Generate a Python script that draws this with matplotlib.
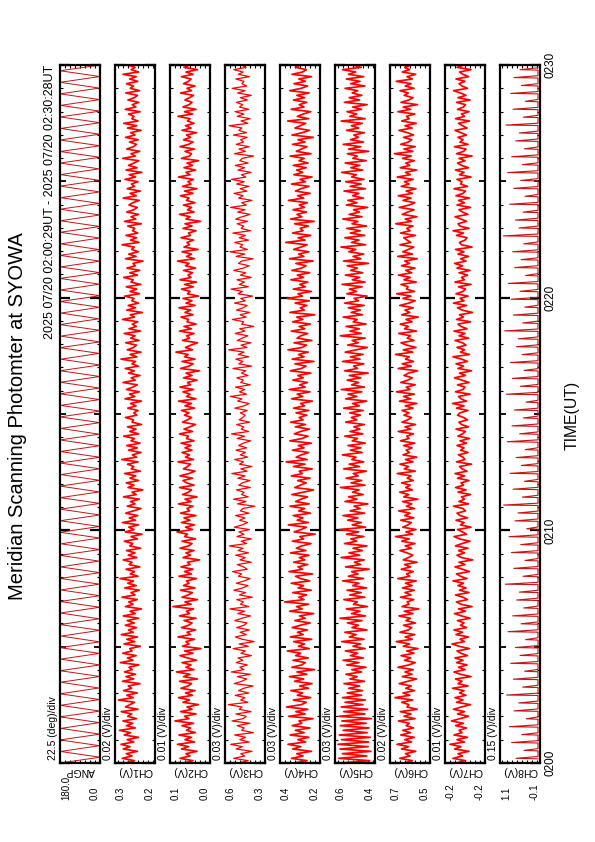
import numpy as np
import matplotlib
matplotlib.use("Agg")
import matplotlib.pyplot as plt
from matplotlib.ticker import MultipleLocator
from matplotlib.transforms import blended_transform_factory

plt.rcParams['font.family'] = ['Liberation Sans', 'DejaVu Sans']

# Panel setup: names, centre value and scale per division (8 divisions per panel)
names = ["ANGP", "CH1(V)", "CH2(V)", "CH3(V)", "CH4(V)", "CH5(V)", "CH6(V)", "CH7(V)", "CH8(V)"]
centres = [90.0, 0.25, 0.05, 0.45, 0.30, 0.50, 0.60, -0.20, 0.50]
divs = [22.5, 0.02, 0.01, 0.03, 0.03, 0.03, 0.02, 0.01, 0.15]
units = ["deg", "V", "V", "V", "V", "V", "V", "V", "V"]

time_ticks = [0, 10, 20, 30]
time_labels = ["0200", "0210", "0220", "0230"]

title = "Meridian Scanning Photomter at SYOWA"
period = "2025 07/20 02:00:29UT - 2025 07/20 02:30:28UT"

# scan angle (deg), sweeping back and forth
angp = [180, 0, 178, 2, 180, 0, 176, 3, 180, 0, 179, 1, 180, 4, 177, 0,
        180, 0, 178, 2, 180, 1, 175, 0, 180, 3, 179, 0, 180, 0, 177, 2,
        180, 0, 178, 5, 180, 0, 176, 1, 180, 2, 179, 0, 180, 0, 178, 3,
        180, 1, 177, 0, 180, 0, 179, 2, 180, 4, 176, 0, 180, 0, 178, 1,
        180, 2, 179, 0, 180, 0, 177, 3, 180, 0, 178, 0, 180, 5, 176, 1,
        180, 0, 179, 2, 180, 0, 178, 0, 180, 3, 177, 1, 180, 0, 179, 0,
        180, 2, 176, 0, 180, 1, 178, 4, 180, 0, 179, 0, 180, 2, 177, 0,
        180, 0, 178, 1, 180, 3, 179, 0, 180, 0]

# photometer channels (mV), from 02:00 to 02:30
ch1_mv = [290, 252, 301, 262, 285, 240, 297, 270, 306, 255, 281, 236, 293, 268, 312,
          249, 284, 259, 298, 244, 279, 263, 305, 238, 288, 270, 252, 316, 257, 283,
          241, 296, 264, 277, 230, 300, 255, 286, 248, 292, 261, 274, 235, 309, 258,
          280, 246, 299, 262, 271, 229, 294, 251, 283, 240, 305, 257, 276, 244, 289,
          253, 281, 236, 297, 249, 270, 224, 288, 258, 275, 241, 302, 250, 266, 233,
          291, 245, 279, 256, 310, 238, 269, 252, 286, 231, 273, 262, 297, 243, 277,
          250, 284, 228, 271, 259, 293, 240, 266, 222, 289, 254, 275, 236, 300, 248,
          273, 239, 287, 257, 226, 281, 250, 268, 233, 296, 245, 262, 219, 278, 254,
          285, 236, 270, 247, 292, 229, 265, 255, 280, 238, 303, 244, 261, 226, 276,
          241, 283, 230, 266, 252, 295, 235, 271, 246, 280, 224, 262, 256, 288, 243,
          255, 238, 279, 246, 268, 224, 290, 251, 272, 233, 284, 259, 241, 298, 249,
          265, 230, 276, 253, 289, 237, 262, 248, 306, 242, 270, 226, 281, 256, 244,
          287, 234, 267, 250, 293, 228, 274, 245, 261, 239, 300, 252, 269, 221, 283,
          248, 277, 236, 263, 254, 291, 232, 270, 243, 285, 227, 266, 257, 295, 240,
          271, 231, 282, 249, 258, 218, 288, 246, 275, 237, 263, 253, 302, 234, 268,
          244, 286, 239, 260, 251, 279, 225, 292, 247, 266, 236, 283, 255, 241, 274,
          259, 233, 297, 245, 270, 229, 281, 252, 264, 238, 290, 248, 273, 223, 286,
          242, 276, 254, 235, 299, 249, 266, 231, 283, 257, 244, 272, 237, 288, 250,
          267, 226, 280, 243, 295, 238, 263, 254, 276, 230, 289, 247, 261, 235, 278,
          253, 240, 287, 232, 269, 256, 284, 239, 271, 245, 298, 236, 265, 250, 279]

ch2_mv = [62, 44, 70, 50, 58, 36, 67, 53, 75, 41, 60, 47, 72, 39, 57,
          49, 66, 43, 80, 52, 61, 38, 69, 46, 56, 33, 64, 51, 73, 45,
          59, 40, 68, 54, 47, 71, 35, 63, 50, 77, 42, 58, 48, 66, 37,
          55, 70, 44, 61, 28, 65, 52, 58, 41, 74, 49, 56, 39, 67, 53,
          46, 62, 38, 71, 51, 57, 43, 84, 48, 60, 35, 66, 54, 45, 69,
          40, 63, 52, 57, 37, 72, 47, 61, 44, 68, 50, 55, 31, 64, 49,
          58, 42, 70, 53, 46, 66, 39, 61, 55, 76, 45, 59, 41, 67, 50,
          62, 38, 69, 51, 56, 44, 73, 48, 60, 36, 65, 53, 47, 71, 42,
          57, 64, 45, 70, 52, 40, 63, 55, 49, 74, 43, 59, 51, 66, 46,
          60, 48, 68, 42, 57, 53, 71, 45, 62, 50, 39, 65, 55, 47, 61,
          52, 67, 41, 60, 47, 73, 38, 57, 50, 64, 43, 70, 49, 55, 36,
          63, 46, 58, 31, 69, 52, 44, 66, 40, 61, 54, 78, 45, 59, 48,
          35, 65, 51, 57, 42, 71, 47, 62, 38, 56, 53, 68, 44, 60, 49,
          72, 40, 58, 46, 64, 33, 55, 50, 67, 43, 61, 37, 70, 48, 54,
          45, 63, 39, 59, 52, 75, 41, 57, 47, 66, 34, 62, 51, 56, 43,
          68, 49, 53, 38, 64, 46, 60, 29, 58, 50, 71, 42, 55, 47, 63,
          40, 57, 52, 69, 44, 61, 36, 65, 48, 54, 43, 73, 50, 58, 39,
          62, 45, 56, 33, 67, 51, 47, 60, 41, 70, 53, 44, 63, 49, 57,
          37, 66, 48, 59, 42, 55, 50, 74, 45, 61, 38, 64, 52, 46, 60,
          51, 43, 69, 47, 56, 40, 63, 53, 48, 67, 44, 58, 35, 62, 50]

ch3_mv = [490, 431, 518, 452, 475, 408, 503, 466, 536, 425, 481, 447, 512, 399, 470,
          455, 497, 420, 528, 461, 443, 505, 414, 484, 468, 550, 433, 476, 451, 509,
          427, 488, 459, 402, 515, 470, 440, 496, 418, 532, 457, 481, 436, 503, 463,
          492, 411, 474, 448, 521, 430, 485, 395, 467, 508, 442, 479, 424, 500, 456,
          438, 511, 469, 417, 493, 452, 541, 428, 477, 460, 499, 406, 483, 446, 517,
          464, 432, 502, 455, 420, 489, 471, 525, 437, 458, 496, 413, 480, 449, 506,
          429, 491, 462, 544, 440, 473, 412, 498, 457, 486, 423, 514, 467, 435, 482,
          451, 507, 426, 478, 463, 392, 495, 444, 519, 431, 470, 456, 501, 418, 487,
          466, 421, 493, 450, 529, 438, 475, 409, 483, 459, 512, 434, 478, 447, 504,
          440, 488, 461, 416, 497, 453, 531, 429, 472, 458, 500, 422, 485, 463, 449,
          478, 437, 511, 455, 426, 494, 469, 538, 441, 483, 452, 507, 418, 476, 460,
          499, 432, 471, 445, 522, 410, 487, 463, 505, 428, 490, 456, 547, 439, 474,
          415, 496, 467, 433, 509, 451, 482, 398, 470, 458, 526, 444, 479, 421, 501,
          461, 437, 513, 449, 475, 405, 492, 466, 534, 430, 484, 454, 498, 413, 477,
          446, 518, 460, 426, 489, 471, 402, 503, 452, 541, 436, 480, 464, 511, 429,
          485, 447, 523, 417, 473, 458, 497, 434, 506, 468, 420, 494, 450, 537, 442,
          470, 409, 488, 462, 516, 439, 479, 427, 500, 455, 531, 445, 472, 414, 492,
          453, 508, 431, 481, 466, 399, 513, 448, 486, 425, 502, 459, 476, 437, 520,
          441, 487, 469, 545, 433, 474, 419, 496, 457, 510, 428, 483, 464, 501, 436,
          478, 412, 494, 451, 527, 440, 468, 456, 505, 423, 489, 461, 517, 444, 473]

ch4_mv = [336, 258, 351, 282, 320, 231, 344, 295, 372, 266, 313, 247, 359, 275, 328,
          241, 347, 289, 306, 222, 368, 270, 325, 253, 381, 292, 262, 340, 236, 316,
          284, 355, 249, 302, 228, 333, 277, 363, 259, 318, 213, 349, 290, 268, 342,
          251, 326, 296, 376, 244, 309, 273, 338, 230, 358, 281, 315, 256, 347, 298,
          239, 331, 269, 303, 218, 362, 287, 321, 248, 392, 276, 307, 260, 344, 233,
          311, 279, 353, 242, 297, 327, 225, 366, 285, 312, 254, 338, 271, 304, 246,
          357, 265, 322, 289, 234, 346, 278, 301, 209, 335, 293, 262, 370, 250, 317,
          283, 341, 237, 308, 272, 360, 245, 326, 294, 255, 349, 280, 219, 332, 299,
          263, 314, 240, 352, 286, 305, 227, 339, 270, 383, 257, 323, 291, 248, 345,
          276, 310, 232, 361, 288, 252, 334, 297, 243, 328, 267, 356, 282, 305, 259,
          324, 248, 339, 273, 296, 226, 351, 284, 317, 240, 365, 269, 302, 255, 343,
          281, 313, 235, 358, 292, 264, 330, 217, 347, 276, 309, 251, 372, 287, 261,
          336, 229, 318, 295, 254, 352, 271, 305, 238, 344, 283, 320, 211, 361, 274,
          298, 259, 329, 244, 377, 286, 312, 232, 340, 268, 301, 253, 355, 279, 316,
          242, 349, 290, 264, 325, 221, 363, 277, 308, 247, 338, 294, 257, 386, 270,
          311, 236, 345, 282, 299, 250, 333, 215, 356, 289, 318, 261, 342, 273, 304,
          256, 369, 278, 314, 239, 327, 295, 246, 351, 267, 300, 228, 337, 284, 320,
          263, 341, 252, 306, 275, 359, 234, 322, 291, 258, 345, 270, 312, 220, 348,
          287, 243, 330, 299, 266, 374, 249, 316, 281, 236, 353, 276, 305, 260, 339,
          272, 319, 245, 362, 293, 255, 336, 268, 307, 231, 348, 285, 262, 327, 296]

ch5_mv = [585, 412, 598, 430, 576, 405, 590, 421, 602, 418, 581, 409, 594, 427, 571,
          416, 588, 433, 579, 402, 596, 440, 568, 424, 583, 452, 560, 438, 575, 460,
          547, 455, 538, 472, 566, 443, 530, 487, 555, 461, 519, 434, 549, 476, 571,
          450, 527, 484, 558, 439, 512, 467, 580, 446, 534, 493, 561, 428, 518, 479,
          545, 458, 590, 437, 521, 470, 552, 425, 509, 486, 567, 441, 531, 463, 548,
          431, 514, 476, 574, 449, 540, 482, 520, 415, 557, 466, 503, 445, 583, 472,
          536, 456, 512, 429, 563, 490, 525, 447, 551, 478, 594, 436, 517, 462, 544,
          483, 572, 442, 529, 469, 506, 423, 560, 488, 539, 451, 515, 476, 587, 440,
          524, 460, 553, 481, 510, 432, 568, 473, 535, 448, 519, 494, 576, 457, 528,
          465, 542, 438, 517, 485, 561, 453, 530, 471, 507, 444, 556, 489, 522, 468,
          532, 451, 568, 474, 515, 430, 556, 489, 541, 459, 582, 443, 520, 478, 547,
          466, 534, 421, 563, 485, 509, 447, 575, 470, 528, 452, 559, 493, 426, 544,
          481, 517, 439, 588, 462, 530, 474, 553, 434, 511, 487, 571, 455, 523, 468,
          540, 445, 562, 479, 506, 428, 549, 491, 533, 457, 578, 440, 516, 472, 558,
          453, 526, 486, 547, 419, 569, 464, 512, 448, 537, 495, 584, 436, 521, 476,
          561, 442, 528, 469, 550, 431, 518, 483, 573, 458, 535, 474, 509, 424, 552,
          488, 543, 450, 515, 477, 566, 437, 529, 463, 556, 446, 520, 492, 580, 455,
          525, 471, 559, 433, 513, 487, 546, 418, 538, 465, 571, 449, 527, 480, 507,
          444, 551, 478, 522, 456, 583, 439, 531, 490, 548, 461, 514, 427, 564, 473,
          535, 459, 517, 484, 560, 441, 526, 470, 552, 448, 539, 496, 575, 463, 512]

ch6_mv = [625, 590, 641, 600, 618, 577, 634, 606, 652, 594, 621, 583, 637, 598, 629,
          586, 615, 603, 646, 580, 624, 596, 639, 571, 612, 604, 633, 589, 660, 601,
          628, 582, 617, 595, 643, 609, 574, 631, 592, 620, 587, 648, 605, 579, 622,
          597, 636, 584, 613, 568, 627, 602, 655, 591, 619, 581, 640, 607, 593, 626,
          578, 616, 599, 644, 588, 623, 565, 632, 604, 611, 585, 638, 596, 620, 583,
          630, 592, 618, 575, 649, 601, 614, 587, 635, 598, 622, 572, 627, 606, 589,
          612, 640, 594, 619, 580, 633, 603, 658, 590, 616, 576, 629, 608, 595, 637,
          585, 621, 600, 645, 582, 614, 593, 630, 569, 625, 605, 641, 591, 617, 599,
          634, 587, 611, 596, 651, 579, 623, 606, 640, 588, 618, 573, 628, 602, 615,
          592, 626, 581, 638, 604, 613, 586, 647, 597, 620, 578, 632, 609, 594, 624,
          604, 632, 588, 619, 573, 642, 597, 626, 583, 654, 600, 615, 579, 637, 609,
          591, 624, 606, 570, 647, 595, 631, 586, 618, 603, 658, 589, 627, 576, 613,
          636, 584, 611, 598, 645, 574, 622, 607, 639, 592, 616, 567, 633, 601, 620,
          587, 641, 605, 579, 628, 596, 653, 582, 614, 608, 636, 575, 624, 599, 646,
          593, 617, 580, 634, 602, 621, 571, 649, 590, 629, 606, 585, 640, 597, 612,
          625, 578, 638, 600, 613, 588, 657, 594, 619, 572, 631, 609, 584, 643, 603,
          581, 628, 596, 647, 590, 615, 576, 635, 604, 622, 587, 651, 599, 618, 574,
          639, 601, 617, 583, 630, 595, 662, 589, 624, 579, 637, 607, 593, 626, 586,
          610, 644, 592, 620, 575, 633, 603, 614, 581, 648, 598, 627, 570, 636, 605,
          588, 623, 607, 640, 584, 619, 596, 655, 591, 612, 577, 631, 602, 621, 594]

ch7_mv = [-182, -201, -176, -195, -186, -208, -179, -192, -170, -199, -184, -205, -178, -194, -188,
          -203, -181, -197, -173, -190, -207, -185, -199, -177, -193, -211, -183, -196, -180, -202,
          -189, -198, -175, -206, -186, -194, -181, -212, -191, -178, -200, -187, -204, -183, -196,
          -180, -205, -192, -184, -209, -188, -174, -199, -190, -207, -182, -195, -178, -203, -191,
          -198, -185, -210, -193, -179, -201, -187, -214, -192, -183, -205, -196, -181, -208, -189,
          -202, -186, -197, -176, -204, -191, -183, -209, -195, -180, -200, -188, -215, -193, -184,
          -199, -187, -206, -181, -194, -210, -189, -178, -203, -195, -185, -212, -191, -198, -182,
          -205, -190, -184, -201, -196, -177, -207, -188, -199, -193, -211, -186, -202, -181, -197,
          -192, -208, -185, -199, -180, -204, -194, -189, -213, -183, -200, -196, -187, -206, -191,
          -198, -184, -203, -190, -209, -186, -195, -201, -182, -207, -193, -188, -205, -197, -185,
          -190, -206, -183, -198, -175, -203, -192, -187, -210, -181, -196, -200, -185, -208, -194,
          -179, -201, -189, -213, -186, -197, -182, -205, -193, -176, -209, -191, -199, -184, -202,
          -195, -180, -207, -188, -200, -178, -204, -192, -186, -211, -183, -197, -189, -215, -194,
          -185, -203, -177, -198, -190, -206, -182, -196, -201, -187, -212, -180, -199, -193, -205,
          -188, -210, -184, -195, -179, -202, -191, -207, -186, -198, -181, -214, -193, -189, -200,
          -204, -183, -197, -176, -208, -190, -186, -203, -192, -180, -206, -195, -188, -211, -184,
          -199, -187, -209, -182, -196, -201, -178, -205, -191, -194, -184, -212, -189, -198, -181,
          -207, -193, -185, -200, -188, -214, -183, -197, -202, -179, -206, -190, -196, -186, -203,
          -192, -180, -204, -195, -187, -209, -181, -199, -193, -208, -185, -197, -201, -183, -210,
          -186, -202, -191, -177, -205, -194, -188, -200, -182, -207, -196, -189, -212, -184, -198]

# CH8: short pulses on a flat baseline
ch8_base_mv = -40
ch8_peaks_mv = [620, 380, 750, 450, 820, 310, 680, 540, 900, 420, 700, 360, 780, 500, 640,
                330, 860, 470, 720, 390, 600, 520, 940, 410, 690, 350, 760, 480, 830, 300,
                650, 560, 990, 430, 710, 370, 800, 460, 620, 340, 880, 510, 740, 400, 670,
                320, 910, 490, 730, 380, 790, 440, 610, 550, 960, 420, 700, 360, 770, 500,
                850, 330, 660, 470, 720, 390, 1000, 530, 640, 410, 810, 350, 690, 480, 870,
                430, 750, 370, 630, 520, 920, 400, 710, 340, 780, 460, 680, 500]

# build series (time in minutes after 02:00)
series = [(np.linspace(0, 30, len(angp)), np.array(angp, dtype=float))]
for mv in [ch1_mv, ch2_mv, ch3_mv, ch4_mv, ch5_mv, ch6_mv, ch7_mv]:
    series.append((np.linspace(0, 30, len(mv)), np.array(mv) / 1000.0))

t_spk = np.linspace(0.2, 29.8, len(ch8_peaks_mv))
t8, v8 = [], []
for t, p in zip(t_spk, ch8_peaks_mv):
    t8 += [t - 0.02, t, t + 0.08]
    v8 += [ch8_base_mv, p, ch8_base_mv]
series.append((np.array(t8), np.array(v8) / 1000.0))

colors = ["#c41414"] + ["#ff0000"] * 7 + ["#c41414"]
widths = [0.7, 1.25, 1.25, 0.9, 1.25, 1.25, 1.25, 1.25, 0.8]

W, H = 595, 842
fig = plt.figure(figsize=(W / 100, H / 100), dpi=100)

top, bot = 65, 763
for i, (name, c, d) in enumerate(zip(names, centres, divs)):
    left = 60 + 55 * i
    ax = fig.add_axes([left / W, 1 - bot / H, 40 / W, (bot - top) / H])
    t, v = series[i]
    ax.plot(v, t, color=colors[i], lw=widths[i])
    ax.set_xlim(c + 4 * d, c - 4 * d)
    ax.set_ylim(0, 30)

    for sp in ax.spines.values():
        sp.set_linewidth(1.6)
    ax.xaxis.set_major_locator(MultipleLocator(d))
    ax.tick_params(axis='x', direction='in', length=2.5, width=0.8,
                   top=True, bottom=True, labelbottom=False)
    ax.yaxis.set_major_locator(MultipleLocator(5))
    ax.yaxis.set_minor_locator(MultipleLocator(1))
    ax.tick_params(axis='y', which='major', direction='in', length=4.5, width=1.3,
                   left=True, right=True, labelleft=False)
    ax.tick_params(axis='y', which='minor', direction='in', length=2.2, width=0.8,
                   left=True, right=True)
    locs = ax.get_yticks()
    for tk, loc in zip(ax.yaxis.get_major_ticks(len(locs)), locs):
        if loc % 10 == 0:
            tk.tick1line.set_markersize(7)
            tk.tick2line.set_markersize(7)
            tk.tick1line.set_markeredgewidth(1.6)
            tk.tick2line.set_markeredgewidth(1.6)

    # scale, channel name and range labels
    ax.text(-7 / 40, 3 / 698, f"{d:g} ({units[i]})/div", transform=ax.transAxes,
            rotation=90, ha='center', va='bottom', fontsize=7.5)
    ax.text(0.5, -7.5 / 698, name, transform=ax.transAxes,
            rotation=180, ha='center', va='center', fontsize=7.5)
    ax.text(6 / 40, -37 / 698, f"{c + 4 * d:.1f}", transform=ax.transAxes,
            rotation=90, ha='center', va='bottom', fontsize=7)
    ax.text(35 / 40, -37 / 698, f"{c - 4 * d:.1f}", transform=ax.transAxes,
            rotation=90, ha='center', va='bottom', fontsize=7)

    if i == len(names) - 1:
        tr = blended_transform_factory(ax.transAxes, ax.transData)
        for tt, lab in zip(time_ticks, time_labels):
            ax.text(1.27, tt, lab, transform=tr, rotation=90,
                    ha='center', va='center', fontsize=8.5)

fig.text(18 / W, 1 - 416 / H, title, rotation=90, ha='center', va='center', fontsize=14.5)
fig.text(50 / W, 1 - 65 / H, period, rotation=90, ha='center', va='top', fontsize=9)
fig.text(572 / W, 1 - 415 / H, "TIME(UT)", rotation=90, ha='center', va='center', fontsize=11.3)

fig.savefig("out.png", dpi=100)
